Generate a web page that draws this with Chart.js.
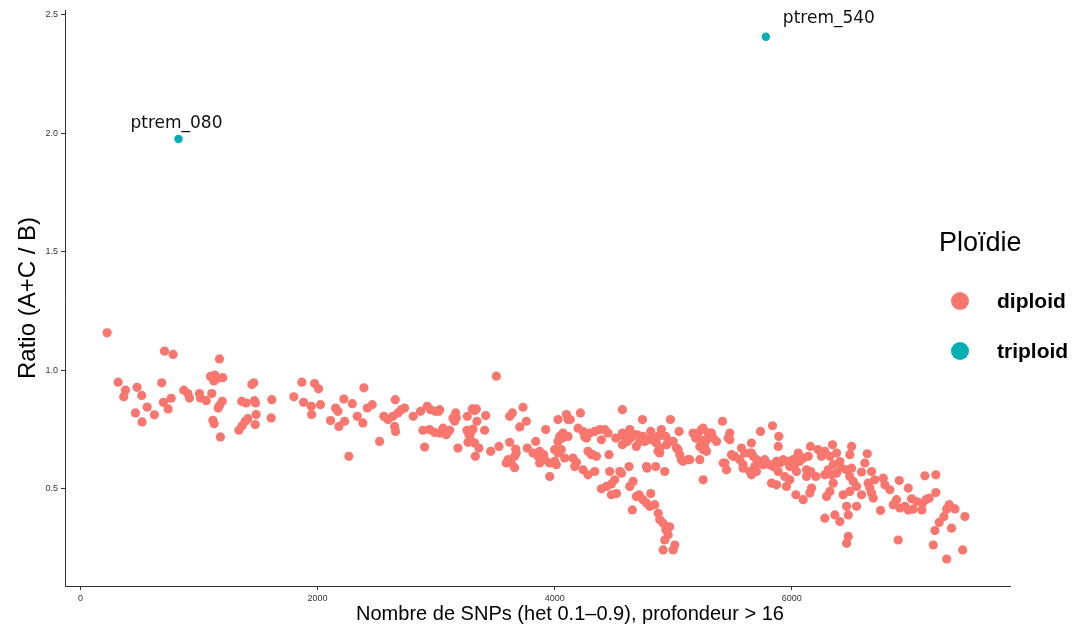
<!DOCTYPE html>
<html>
<head>
<meta charset="utf-8">
<title>Ratio (A+C / B)</title>
<script src="https://cdn.jsdelivr.net/npm/chart.js@4.4.1/dist/chart.umd.min.js"></script>
<style>
  html, body { margin: 0; padding: 0; background: #fff; }
  #wrap { width: 1073px; height: 633px; }
</style>
</head>
<body>
<div id="wrap"><canvas id="ratioChart" width="1073" height="633"></canvas></div>
<script>
// Échantillons diploïdes : nombre de SNPs / ratio
const diploidX = [
  225, 709, 782, 1173, 318, 380, 365, 478, 517, 563, 464, 520, 624, 686, 700, 740, 765, 872, 906, 920,
  1004, 1013, 1061, 1108, 1097, 1133, 1125, 1154, 1201, 1196, 1173, 1162, 1117, 1128, 1181,
  1446, 1462, 1361, 1398, 1468, 1477, 1336, 1364, 1390, 1412, 1482, 1474, 1614, 1609, 1868, 1975, 2008,
  1800, 1882, 1947, 2025, 1950, 2391, 2222, 2293, 2152, 2172, 2110, 2180, 2228, 2335, 2382, 2419, 2461,
  2523, 2264, 2559, 2593,
  3508, 2655, 2636, 2678, 2706, 2734, 2650, 2658, 2807, 2869, 2925, 2953, 2994, 3022, 2889, 2945, 2987,
  3030, 3072, 3114, 2903, 3165, 3156, 3142, 3263, 3305, 3339, 3344, 3418, 3260, 3277, 3311, 3289, 3269,
  3325, 3361, 3409, 3331, 3184, 3460, 3530, 3620, 3643, 3733, 3705, 3761, 3620, 3671, 3662, 3606, 3592,
  3662, 3769, 3840, 3817, 3859, 3873, 3924, 3958, 3958,
  4028, 4099, 4113, 4217, 4065, 4113, 3873, 3916, 4000, 4028, 4056, 4084, 4014, 4000, 4154, 4183, 4169,
  4197, 4239, 4295, 4338, 4380, 4422, 4450, 4394, 4268, 4281, 4309, 4352, 4458, 4239, 4281, 4338, 4464,
  4549, 4627, 4394, 4436, 4478, 4506, 4521, 4563, 4478, 4515, 4571, 4599, 4633, 4675, 4717, 4689, 4571,
  4740, 4661, 4633, 4689, 4712, 4745, 4774, 4802, 4844, 4873, 4886, 4915, 4937, 4957, 4928, 4970, 4915,
  5013, 4999, 4655, 4774, 4852, 4928, 4810, 4810, 4873, 4844, 4900, 4886, 4943, 4976, 4999, 5027, 5055,
  5049, 5069, 5139, 5224, 5252, 5167, 5196, 5252, 5280, 5224, 5266,
  5415, 5837, 5736, 5890, 5238, 5308, 5336, 5365, 5266, 5252, 5477, 5463, 5575, 5659, 5646, 5491, 5519,
  5561, 5589, 5435, 5449, 5646, 5688, 5730, 5772, 5814, 5857, 5899, 5927, 5969, 5983, 6025, 6068, 6096,
  6124, 5885, 5941, 5829, 5871, 5955, 6039, 6124, 6166, 6152, 6034, 6096, 6054, 6158, 6222, 6250, 6278,
  6321, 6343, 6377, 6405, 6349, 6307, 6278, 6335, 6377, 6419, 6462, 6504, 6518, 6546, 6489, 6433, 6349,
  6321, 6293, 6462, 6546, 6476, 6405, 6363, 6278, 6476, 6462, 6504, 6489,
  6636, 6616, 6588, 6489, 6672, 6644, 6658, 6672, 6687, 6700, 6771, 6785, 6827, 6588, 6748, 6906, 6982,
  7010, 6883, 6855, 6911, 6954, 6982, 7024, 6897, 7122, 7215, 7215, 7051, 7102, 7131, 7159, 7097, 7328,
  7306, 7376, 7283, 7243, 7207, 7347, 7460, 7193, 7306, 7441,
  // zone dense 3000–6200
  4130, 4042, 4070, 4253, 4585, 4698, 4641, 4613, 4571, 4745, 4760, 4788, 4830, 4858, 4886, 4937, 4970,
  5041, 5083, 5125, 4872, 4323, 4779,
  5208, 5189, 5231, 5294, 5322, 5280, 5477, 5885, 5505, 5603, 5660, 5674, 5702, 5758, 5786, 5843, 5871,
  5955, 6011, 6039, 5421, 5589, 5660, 5702, 6160, 6203, 5983, 6138,
  3030, 3170, 3058, 3100, 3086, 3325, 3291, 3676, 3633, 3907, 4028
];
const diploidY = [
  1.158, 1.081, 1.067, 1.048, 0.950, 0.916, 0.888, 0.928, 0.894, 0.845, 0.820, 0.782, 0.812, 0.947, 0.865, 0.837, 0.882, 0.916, 0.902, 0.883,
  0.902, 0.883, 0.872, 0.902, 0.974, 0.980, 0.955, 0.965, 0.969, 0.869, 0.851, 0.841, 0.789, 0.775, 0.719,
  0.940, 0.947, 0.869, 0.862, 0.872, 0.862, 0.747, 0.766, 0.785, 0.796, 0.813, 0.771, 0.876, 0.799, 0.950, 0.944, 0.922,
  0.888, 0.865, 0.848, 0.855, 0.813, 0.926, 0.879, 0.859, 0.841, 0.827, 0.788, 0.763, 0.785, 0.806, 0.778, 0.841, 0.855,
  0.700, 0.637, 0.806, 0.792,
  0.975, 0.876, 0.806, 0.820, 0.834, 0.841, 0.763, 0.742, 0.806, 0.827, 0.848, 0.834, 0.827, 0.827, 0.747, 0.750, 0.738,
  0.735, 0.738, 0.747, 0.676, 0.820, 0.785, 0.799, 0.806, 0.837, 0.837, 0.785, 0.809, 0.747, 0.728, 0.752, 0.707, 0.696,
  0.693, 0.672, 0.747, 0.637, 0.672, 0.658, 0.679, 0.806, 0.820, 0.844, 0.761, 0.785, 0.696, 0.668, 0.637, 0.623, 0.609,
  0.589, 0.672, 0.700, 0.651, 0.637, 0.609, 0.750, 0.609, 0.552,
  0.792, 0.813, 0.792, 0.820, 0.714, 0.721, 0.658, 0.623, 0.665, 0.651, 0.665, 0.630, 0.602, 0.616, 0.630, 0.612, 0.594,
  0.756, 0.742, 0.735, 0.742, 0.750, 0.750, 0.735, 0.707, 0.714, 0.658, 0.644, 0.637, 0.644, 0.580, 0.559, 0.573, 0.573,
  0.573, 0.594, 0.500, 0.510, 0.520, 0.538, 0.480, 0.566, 0.475, 0.714, 0.735, 0.700, 0.750, 0.728, 0.700, 0.679, 0.834,
  0.792, 0.531, 0.510, 0.468, 0.475, 0.454, 0.440, 0.426, 0.433, 0.397, 0.369, 0.355, 0.327, 0.306, 0.284, 0.340, 0.242,
  0.263, 0.242, 0.411, 0.594, 0.594, 0.573, 0.480, 0.742, 0.721, 0.700, 0.750, 0.651, 0.686, 0.792, 0.700, 0.672, 0.644,
  0.742, 0.623, 0.623, 0.623, 0.538, 0.735, 0.721, 0.756, 0.707, 0.679, 0.672,
  0.785, 0.766, 0.742, 0.721, 0.750, 0.735, 0.714, 0.700, 0.693, 0.665, 0.735, 0.714, 0.672, 0.693, 0.651, 0.644, 0.637,
  0.623, 0.602, 0.609, 0.580, 0.573, 0.594, 0.615, 0.623, 0.602, 0.594, 0.609, 0.623, 0.615, 0.594, 0.602, 0.616, 0.630,
  0.580, 0.573, 0.552, 0.524, 0.517, 0.510, 0.573, 0.552, 0.503, 0.482, 0.475, 0.454, 0.651, 0.679, 0.665, 0.637, 0.658,
  0.637, 0.686, 0.651, 0.615, 0.602, 0.580, 0.559, 0.559, 0.566, 0.587, 0.580, 0.587, 0.531, 0.510, 0.489, 0.475, 0.524,
  0.489, 0.468, 0.426, 0.426, 0.390, 0.362, 0.390, 0.376, 0.299, 0.270, 0.679, 0.644,
  0.648, 0.609, 0.571, 0.552, 0.573, 0.524, 0.503, 0.482, 0.461, 0.538, 0.545, 0.517, 0.496, 0.475, 0.409, 0.535, 0.503,
  0.458, 0.454, 0.433, 0.419, 0.426, 0.411, 0.414, 0.284, 0.555, 0.559, 0.484, 0.446, 0.440, 0.454, 0.461, 0.411, 0.433,
  0.415, 0.415, 0.383, 0.358, 0.324, 0.334, 0.383, 0.263, 0.204, 0.242,
  0.792, 0.721, 0.735, 0.720, 0.721, 0.728, 0.714, 0.700, 0.686, 0.721, 0.700, 0.707, 0.714, 0.693, 0.672, 0.721, 0.700,
  0.665, 0.616, 0.623, 0.658, 0.644, 0.587,
  0.735, 0.714, 0.707, 0.735, 0.735, 0.658, 0.707, 0.679, 0.637, 0.651, 0.651, 0.637, 0.623, 0.602, 0.609, 0.594, 0.616,
  0.616, 0.623, 0.630, 0.609, 0.587, 0.559, 0.573, 0.573, 0.552, 0.538, 0.637,
  0.834, 0.799, 0.756, 0.742, 0.728, 0.830, 0.735, 0.651, 0.609, 0.644, 0.700
];

// Échantillons triploïdes (étiquetés)
const triploidX = [827, 5781];
const triploidY = [1.976, 2.407];
const triploidNames = ['ptrem_080', 'ptrem_540'];

const xTicks = [0, 2000, 4000, 6000];
const yTicks = [0.5, 1.0, 1.5, 2.0, 2.5];

const diploidColor = '#F8766D';
const triploidColor = '#03AEB4';

function toPoints(xs, ys) {
    return xs.map((x, i) => ({ x: x, y: ys[i] }));
}

// Légende, titre de l'axe X et étiquettes des triploïdes
const extrasPlugin = {
    id: 'extras',
    afterDatasetsDraw(chart) {
        const ctx = chart.ctx;
        const xs = chart.scales.x;
        const ys = chart.scales.y;
        ctx.save();

        // étiquettes des points triploïdes
        ctx.fillStyle = '#111';
        ctx.font = '17px "DejaVu Sans"';
        ctx.textBaseline = 'middle';
        triploidNames.forEach((name, i) => {
            const px = xs.getPixelForValue(triploidX[i]);
            const py = ys.getPixelForValue(triploidY[i]);
            if (i === 0) {
                ctx.textAlign = 'center';
                ctx.fillText(name, px - 2, py - 15);
            } else {
                ctx.textAlign = 'left';
                ctx.fillText(name, px + 17, py - 18);
            }
        });

        // titre de l'axe X (police resserrée)
        const xTitle = 'Nombre de SNPs (het 0.1\u20130.9), profondeur > 16';
        ctx.font = '21px "Liberation Sans", Arial, sans-serif';
        ctx.fillStyle = '#000';
        ctx.textAlign = 'center';
        const w = ctx.measureText(xTitle).width;
        ctx.save();
        ctx.translate(570, 614);
        ctx.scale(428 / w, 1);
        ctx.fillText(xTitle, 0, 0);
        ctx.restore();

        // légende
        ctx.textAlign = 'left';
        ctx.font = '27px "Liberation Sans", Arial, sans-serif';
        ctx.fillText('Plo\u00efdie', 939, 244);

        const items = [
            { label: 'diploid', color: diploidColor, y: 301 },
            { label: 'triploid', color: triploidColor, y: 351 }
        ];
        items.forEach(item => {
            ctx.beginPath();
            ctx.arc(960, item.y, 9, 0, Math.PI * 2);
            ctx.fillStyle = item.color;
            ctx.fill();
            ctx.fillStyle = '#000';
            ctx.font = 'bold 21px "Liberation Sans", Arial, sans-serif';
            ctx.fillText(item.label, 997, item.y + 1);
        });

        ctx.restore();
    }
};

const ctx = document.getElementById('ratioChart').getContext('2d');

new Chart(ctx, {
    type: 'scatter',
    data: {
        datasets: [
            {
                label: 'diploid',
                data: toPoints(diploidX, diploidY),
                backgroundColor: diploidColor,
                borderWidth: 0,
                pointRadius: 4.6,
                pointHoverRadius: 4.6
            },
            {
                label: 'triploid',
                data: toPoints(triploidX, triploidY),
                backgroundColor: triploidColor,
                borderWidth: 0,
                pointRadius: 4.2,
                pointHoverRadius: 4.2
            }
        ]
    },
    options: {
        responsive: false,
        animation: false,
        layout: { padding: { top: 10, right: 63, left: 0, bottom: 0 } },
        plugins: {
            legend: { display: false },
            tooltip: { enabled: false }
        },
        scales: {
            x: {
                type: 'linear',
                min: -130,
                max: 7840,
                afterBuildTicks: s => { s.ticks = xTicks.map(v => ({ value: v })); },
                afterFit: s => { s.height = 47; },
                grid: { drawOnChartArea: false, drawTicks: true, tickLength: 4, color: '#333', lineWidth: 1 },
                border: { display: true, color: '#333', width: 1 },
                ticks: {
                    padding: 3,
                    color: '#333',
                    font: { size: 9, family: '"Liberation Sans", Arial, sans-serif' },
                    maxRotation: 0,
                    callback: v => String(v)
                }
            },
            y: {
                type: 'linear',
                min: 0.09,
                max: 2.52,
                afterBuildTicks: s => { s.ticks = yTicks.map(v => ({ value: v })); },
                afterFit: s => { s.width = 65; },
                grid: { drawOnChartArea: false, drawTicks: true, tickLength: 4, color: '#333', lineWidth: 1 },
                border: { display: true, color: '#333', width: 1 },
                ticks: {
                    padding: 3,
                    color: '#333',
                    font: { size: 9, family: '"Liberation Sans", Arial, sans-serif' },
                    callback: v => v.toFixed(1)
                },
                title: {
                    display: true,
                    text: 'Ratio (A+C / B)',
                    color: '#000',
                    font: { size: 24, family: '"Liberation Sans", Arial, sans-serif' },
                    padding: { top: 14, bottom: 0 }
                }
            }
        }
    },
    plugins: [extrasPlugin]
});
</script>
</body>
</html>
